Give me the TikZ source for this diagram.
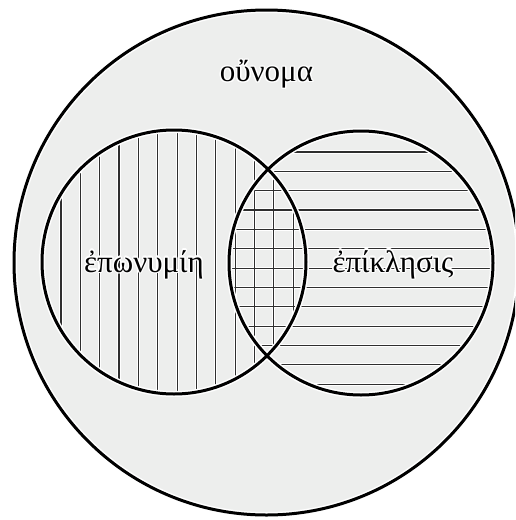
\documentclass[tikz,border=0pt]{standalone}
\usepackage{fontspec}
\setmainfont{Liberation Serif}
\usepackage[copies]{contour}
\contourlength{1.3pt}
\definecolor{bgfill}{HTML}{EDEEED}
\definecolor{hatchcol}{HTML}{2E2E2E}
\tikzset{
  halo/.style={white, line width=3.2pt},
  hatchline/.style={hatchcol, line width=1.2pt},
  ringhalo/.style={white, line width=6pt},
  ring/.style={black, line width=3pt},
  lbl/.style={inner sep=0pt, anchor=base, font=\fontsize{31}{36}\selectfont}
}
\begin{document}
\begin{tikzpicture}[x=1pt,y=-1pt]
\useasboundingbox (0,0) rectangle (515,520);
\clip (0,0) rectangle (515,520);
\fill[white] (0,0) rectangle (515,520);
\coordinate (cO) at (266.5,262.5);
\coordinate (cL) at (174,262);
\coordinate (cR) at (361,263);
% outer set
\fill[bgfill] (cO) circle (252.5pt);
% hatch halos
\begin{scope}
  \clip (cL) circle (132pt);
  \foreach \i in {0,...,12} {\draw[halo] (61+19.35*\i,100) -- (61+19.35*\i,420);}
\end{scope}
\begin{scope}
  \clip (cR) circle (132pt);
  \foreach \i in {0,...,12} {\draw[halo] (220,152+19.35*\i) -- (510,152+19.35*\i);}
\end{scope}
% hatch lines
\begin{scope}
  \clip (cL) circle (132pt);
  \foreach \i in {0,...,12} {\draw[hatchline] (61+19.35*\i,100) -- (61+19.35*\i,420);}
\end{scope}
\begin{scope}
  \clip (cR) circle (132pt);
  \foreach \i in {0,...,12} {\draw[hatchline] (220,152+19.35*\i) -- (510,152+19.35*\i);}
\end{scope}
% outlines
\draw[ringhalo] (cO) circle (252.5pt);
\draw[ringhalo] (cL) circle (132pt);
\draw[ringhalo] (cR) circle (132pt);
\draw[ring] (cO) circle (252.5pt);
\draw[ring] (cL) circle (132pt);
\draw[ring] (cR) circle (132pt);
% labels
\node[lbl] (onoma) at (266.5,81.5) {\contour{white}{οὔνομα}};
\node[lbl] (eponymie) at (144,272) {\contour{white}{ἐπωνυμίη}};
\node[lbl] (epiklesis) at (393,272) {\contour{white}{ἐπίκλησις}};
\end{tikzpicture}
\end{document}
